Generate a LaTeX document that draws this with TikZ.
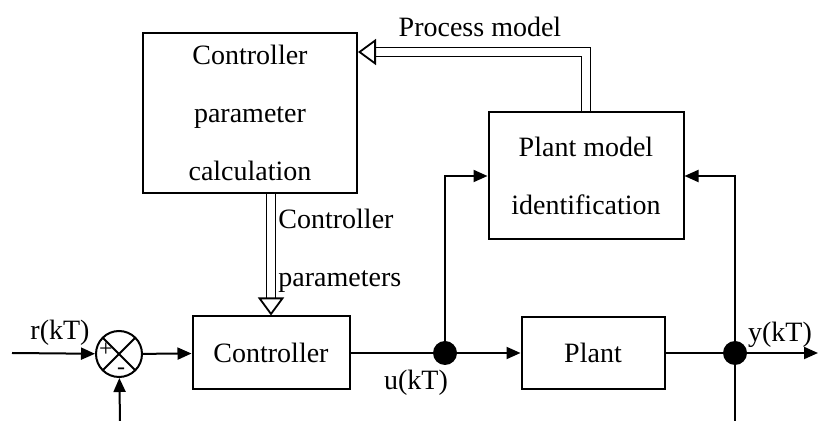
\documentclass[tikz,border=0pt]{standalone}
\usepackage{fontspec}
\setmainfont{Liberation Serif}
\usetikzlibrary{arrows.meta,positioning,calc}

\begin{document}
\begin{tikzpicture}[
    x=0.5pt, y=-0.5pt,
    every node/.style={font=\rmfamily\fontsize{14}{29}\selectfont},
    blk/.style ={draw, line width=1pt, align=center, inner sep=0pt},
    sig/.style ={line width=1pt, -{Triangle[length=7pt,width=6pt]}},
    wire/.style={line width=1pt},
    dbl/.style ={double, double distance=3.6pt, line width=0.9pt,
                 -{Triangle[open,length=9pt,width=13pt]}},
    dot/.style ={circle, fill=black, inner sep=0pt, minimum size=12pt},
    lbl/.style ={inner sep=1pt},
    sgn/.style ={inner sep=0pt, font=\rmfamily\fontsize{12}{12}\selectfont}
]
\useasboundingbox (0,0) rectangle (819,421);

% Blocks
\node[blk, minimum width=107pt, minimum height=80pt] (calc) at (250,113)
     {Controller\\parameter\\calculation};
\node[blk, minimum width=97.5pt, minimum height=63.5pt] (ident) at (586,176)
     {Plant model\\identification};
\node[blk, minimum width=78.5pt, minimum height=36.5pt] (ctrl) at (271,353) {Controller};
\node[blk, minimum width=71.5pt, minimum height=36pt] (plant) at (593,353) {Plant};

% Summing junction
\node[draw, circle, line width=1pt, minimum size=23pt, inner sep=0pt,
      path picture={
        \draw[line width=1pt] (path picture bounding box.north west)
            -- (path picture bounding box.south east);
        \draw[line width=1pt] (path picture bounding box.north east)
            -- (path picture bounding box.south west);}] (sum) at (119,354) {};
\node[sgn] (plus) at (106,350) {+};
\node[sgn] (minus) at (121,371) {-};

% Branch points
\node[dot] (du) at (445,353) {};
\node[dot] (dy) at (735,353) {};

% Free ends
\coordinate (rin) at (12,353);
\coordinate (fb) at (120,421);
\coordinate (yout) at (818,353);
\coordinate (ybot) at (735,421);
\coordinate (pm) at (586,52);

% Signal paths
\draw[sig] (rin) -- (sum);
\draw[sig] (fb) -- (sum);
\draw[sig] (sum) -- (ctrl);
\draw[wire] (ctrl) -- (du);
\draw[sig] (du) -- (plant);
\draw[sig] (du) |- (ident.west);
\draw[wire] (plant) -- (dy);
\draw[sig] (dy) -- (yout);
\draw[wire] (ybot) -- (dy);
\draw[sig] (dy) |- (ident.east);

% Parameter paths
\draw[dbl] (calc.south -| ctrl.north) -- (ctrl.north);
\draw[dbl] (ident.north) -- (pm) -- (pm -| calc.east);

% Labels
\node[lbl] (r) at (60,333) {r(kT)};
\node[lbl] (u) at (416,383) {u(kT)};
\node[lbl] (y) at (780,335) {y(kT)};
\node[lbl, anchor=west, align=left] (cp) at (276,251) {Controller\\parameters};
\node[lbl] (pml) at (480,27) {Process model};
\end{tikzpicture}
\end{document}
